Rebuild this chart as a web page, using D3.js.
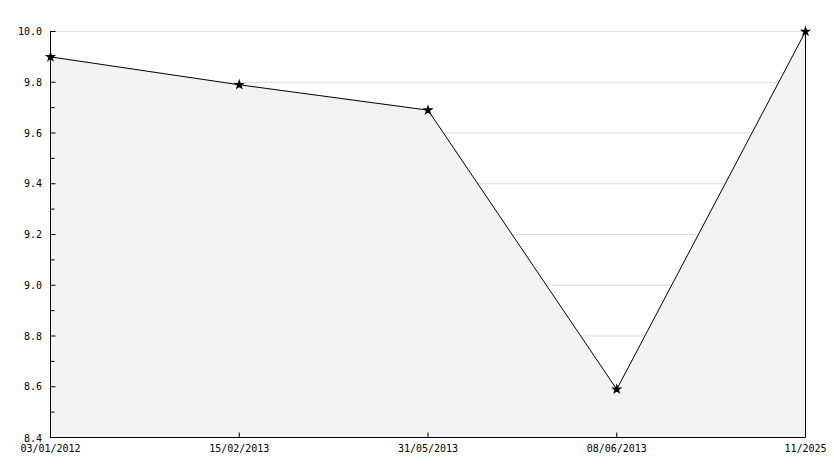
<!DOCTYPE html>
<html>
<head>
<meta charset="utf-8">
<script src="https://cdn.jsdelivr.net/npm/d3@7"></script>
<style>
  body { margin: 0; background: #fff; }
  text { font-family: "DejaVu Sans Mono", monospace; font-size: 10px; fill: #000; }
</style>
</head>
<body>
<svg width="834" height="468"></svg>
<script>
var labels = ["03/01/2012", "15/02/2013", "31/05/2013", "08/06/2013", "11/2025"];
var values = [9.9, 9.79, 9.69, 8.59, 10.0];
var yTicks = [8.4, 8.6, 8.8, 9.0, 9.2, 9.4, 9.6, 9.8, 10.0];

var svg = d3.select("svg");

var x = d3.scalePoint().domain(labels).range([50, 805]);
var y = d3.scaleLinear().domain([8.4, 10.0]).range([437, 31]);

var data = labels.map((d, i) => ({label: d, value: values[i]}));

// grid
svg.append("g")
    .selectAll("line")
    .data(yTicks.slice(1))
    .enter()
    .append("line")
    .attr("x1", 50).attr("x2", 805)
    .attr("y1", d => y(d) + 0.5).attr("y2", d => y(d) + 0.5)
    .attr("stroke", "#dcdcdc")
    .attr("stroke-width", 1);

// area
var area = d3.area()
    .x(d => x(d.label) + 0.5)
    .y0(y(8.4))
    .y1(d => y(d.value));

svg.append("path")
    .datum(data)
    .attr("d", area)
    .attr("fill", "#f2f2f2");

// right edge
svg.append("line")
    .attr("x1", x(labels[4]) + 0.5).attr("x2", x(labels[4]) + 0.5)
    .attr("y1", y(values[4])).attr("y2", y(8.4))
    .attr("stroke", "#000");

// y axis
var yAxis = d3.axisRight(y)
    .tickValues(d3.range(84, 101).map(v => v / 10))
    .tickSize(5)
    .tickFormat("");
var gy = svg.append("g").attr("transform", "translate(50.5,0)").call(yAxis);
gy.select(".domain").attr("d", "M0," + y(10.0) + "V" + (y(8.4) + 0.5)).attr("stroke", "#000");
gy.selectAll(".tick line").attr("x2", (d, i) => i % 2 == 0 ? 5 : 4);
gy.selectAll(".tick").attr("transform", d => "translate(0," + (y(d) + 0.5) + ")");

// y labels
svg.append("g")
    .selectAll("text")
    .data(yTicks)
    .enter()
    .append("text")
    .attr("x", 42)
    .attr("y", d => d == 8.4 ? y(d) + 5 : y(d) + 4)
    .attr("text-anchor", "end")
    .text(d => d.toFixed(1));

// x axis
var xAxis = d3.axisTop(x).tickSize(5).tickFormat("");
var gx = svg.append("g").attr("transform", "translate(0," + (y(8.4) + 0.5) + ")").call(xAxis);
gx.select(".domain").attr("d", "M50,0H805.5").attr("stroke", "#000");
gx.selectAll(".tick").attr("transform", d => "translate(" + (x(d) + 0.5) + ",0)");

svg.append("g")
    .selectAll("text")
    .data(labels)
    .enter()
    .append("text")
    .attr("x", d => x(d) + 0.5)
    .attr("y", 452)
    .attr("text-anchor", "middle")
    .text(d => d);

// line
var line = d3.line()
    .x(d => x(d.label) + 0.5)
    .y(d => y(d.value) + 0.5);

svg.append("path")
    .datum(data)
    .attr("d", line)
    .attr("fill", "none")
    .attr("stroke", "#000")
    .attr("stroke-width", 1);

// markers
svg.append("g")
    .selectAll("path")
    .data(data)
    .enter()
    .append("path")
    .attr("d", d3.symbol().type(d3.symbolStar).size(18))
    .attr("transform", d => "translate(" + (x(d.label) + 0.5) + "," + (y(d.value) + 0.5) + ")")
    .attr("fill", "#000")
    .attr("stroke", "#000")
    .attr("stroke-width", 1.2);
</script>
</body>
</html>
